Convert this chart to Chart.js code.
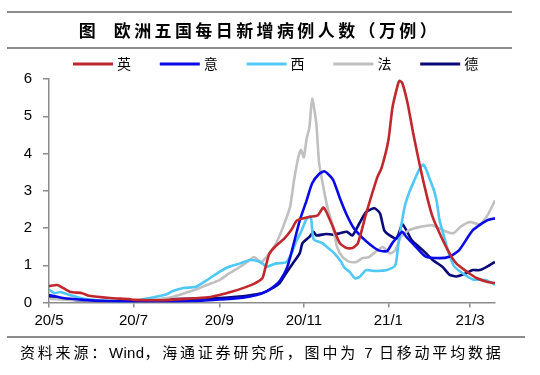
<!DOCTYPE html>
<html lang="zh">
  <head>
    <meta charset="utf-8" />
    <title>欧洲五国每日新增病例人数</title>
    <style>
      * {
        margin: 0;
        padding: 0;
      }
      body {
        background: #fff;
      }
      .wrap {
        position: relative;
        width: 540px;
        height: 375px;
        overflow: hidden;
      }
      .title {
        position: absolute;
        left: 7px;
        top: 11px;
        width: 505px;
        height: 34px;
        border-top: 2px solid #8c8c8c;
        border-bottom: 2px solid #8c8c8c;
        text-align: center;
        line-height: 34px;
        font-family: "Noto Sans CJK SC", sans-serif;
        font-weight: bold;
        font-size: 17px;
        letter-spacing: 3.4px;
        color: #000;
      }
      .source {
        position: absolute;
        left: 7px;
        top: 336px;
        width: 505px;
        border-top: 2px solid #8c8c8c;
        padding-left: 13px;
        padding-top: 3px;
        font-family: "Noto Sans CJK SC", sans-serif;
        font-size: 15px;
        letter-spacing: 2.8px;
        color: #000;
      }
      .source span {
        font-family: "Liberation Sans", Arial, sans-serif;
        letter-spacing: 0.3px;
      }
      canvas {
        position: absolute;
        left: 0;
        top: 0;
      }
    </style>
  </head>
  <body>
    <div class="wrap">
      <canvas id="myChart" width="540" height="375"></canvas>
      <div class="title">图&nbsp;&nbsp;欧洲五国每日新增病例人数（万例）</div>
      <div class="source">资料来源：<span>Wind</span>，海通证券研究所，图中为 <span>7</span> 日移动平均数据</div>
    </div>

    <script src="https://cdn.jsdelivr.net/npm/chart.js"></script>

    <script>
      // x values are days counted from 2020-05-01
      const tickDays = [0, 61, 123, 184, 245, 304];
      const tickLabels = ["20/5", "20/7", "20/9", "20/11", "21/1", "21/3"];
      const yTicks = [0, 1, 2, 3, 4, 5, 6];

      const seriesNames = ["英", "意", "西", "法", "德"];
      const seriesColors = ["#c0282d", "#0a0ae6", "#50c8f5", "#c0c0c0", "#0a0a78"];

      // 英
      const ukDays = [0, 6, 15, 24, 29, 44, 58, 61, 80, 100, 115, 123, 133, 141, 148, 154, 156, 159, 163, 170, 175, 179, 188, 194, 198, 200, 205, 210, 215, 219, 223, 229, 237, 240, 245, 248, 252, 253, 255, 259, 263, 268, 273, 277, 282, 288, 294, 302, 309, 316, 322];
      const ukVals = [0.44, 0.47, 0.29, 0.25, 0.18, 0.12, 0.09, 0.07, 0.06, 0.1, 0.14, 0.2, 0.3, 0.4, 0.5, 0.65, 0.9, 1.3, 1.49, 1.72, 1.95, 2.2, 2.3, 2.34, 2.55, 2.45, 2.03, 1.59, 1.46, 1.46, 1.59, 2.39, 3.36, 3.6, 4.35, 5.24, 5.87, 5.95, 5.9, 5.33, 4.53, 3.63, 2.83, 2.29, 1.86, 1.4, 1.05, 0.82, 0.65, 0.56, 0.52];

      // 意
      const itDays = [0, 10, 25, 40, 60, 90, 110, 123, 140, 150, 157, 163, 167, 172, 176, 181, 186, 190, 195, 199, 205, 210, 215, 220, 226, 232, 238, 244, 248, 255, 258, 265, 272, 282, 289, 296, 306, 316, 322];
      const itVals = [0.2, 0.12, 0.07, 0.04, 0.03, 0.03, 0.05, 0.08, 0.13, 0.2, 0.3, 0.45, 0.6, 0.95, 1.48, 2.2, 2.74, 3.2, 3.45, 3.52, 3.3, 2.8, 2.35, 2.0, 1.75, 1.55, 1.4, 1.38, 1.6, 1.9, 1.76, 1.49, 1.23, 1.19, 1.23, 1.4, 1.94, 2.2, 2.26];

      // 西
      const esDays = [0, 4, 8, 15, 25, 40, 61, 73, 85, 89, 97, 106, 114, 123, 130, 138, 145, 150, 154, 157, 164, 171, 175, 178, 182, 186, 189, 191, 197, 202, 206, 211, 213, 217, 221, 224, 229, 234, 239, 244, 250, 252, 254, 257, 260, 264, 267, 270, 272, 275, 278, 280, 282, 285, 288, 292, 296, 300, 306, 316, 322];
      const esVals = [0.35, 0.25, 0.28, 0.2, 0.1, 0.05, 0.04, 0.12, 0.22, 0.3, 0.39, 0.42, 0.6, 0.82, 0.96, 1.05, 1.14, 1.12, 1.05, 0.96, 1.05, 1.08, 1.3, 1.6, 1.9, 2.25, 2.3, 1.7, 1.6, 1.45, 1.32, 1.09, 0.95, 0.82, 0.65, 0.68, 0.87, 0.85, 0.85, 0.87, 1.0, 1.5, 2.0, 2.6, 2.95, 3.3, 3.55, 3.7, 3.6, 3.3, 3.0, 2.7, 2.2, 1.8, 1.4, 1.0, 0.85, 0.75, 0.62, 0.6, 0.47];

      // 法
      const frDays = [0, 15, 30, 50, 61, 75, 89, 102, 114, 123, 130, 138, 145, 148, 151, 154, 159, 164, 169, 174, 177, 180, 182, 184, 186, 188, 190, 193, 195, 199, 201, 205, 208, 212, 217, 222, 226, 231, 237, 241, 246, 250, 254, 260, 268, 277, 287, 292, 297, 304, 311, 316, 322];
      const frVals = [0.1, 0.07, 0.05, 0.04, 0.05, 0.08, 0.15, 0.3, 0.47, 0.6, 0.78, 0.96, 1.14, 1.22, 1.14, 1.1, 1.32, 1.59, 2.03, 2.56, 3.3, 3.9, 4.1, 3.9, 4.4, 4.7, 5.47, 4.8, 3.75, 2.92, 2.56, 2.03, 1.49, 1.22, 1.09, 1.09, 1.19, 1.22, 1.4, 1.49, 1.32, 1.4, 1.76, 1.94, 2.03, 2.07, 1.9, 1.86, 2.03, 2.16, 2.1, 2.3, 2.74];

      // 德
      const deDays = [0, 10, 20, 40, 61, 80, 100, 123, 135, 150, 157, 166, 171, 176, 181, 183, 188, 191, 193, 200, 205, 210, 215, 219, 224, 229, 235, 239, 242, 246, 251, 255, 258, 262, 270, 277, 284, 289, 294, 299, 306, 311, 318, 322];
      const deVals = [0.15, 0.1, 0.06, 0.04, 0.04, 0.08, 0.1, 0.12, 0.15, 0.22, 0.3, 0.5, 0.78, 1.05, 1.32, 1.59, 1.76, 1.9, 1.8, 1.84, 1.82, 1.86, 1.9, 1.8, 2.12, 2.43, 2.53, 2.39, 1.94, 1.8, 1.72, 2.1, 1.94, 1.67, 1.4, 1.14, 0.96, 0.75, 0.7, 0.75, 0.87, 0.87, 1.0, 1.09];

      const allDays = [ukDays, itDays, esDays, frDays, deDays];
      const allVals = [ukVals, itVals, esVals, frVals, deVals];

      function toPoints(days, vals) {
        return days.map((d, i) => ({ x: d, y: vals[i] }));
      }

      const datasets = seriesNames.map((name, i) => ({
        label: name,
        data: toPoints(allDays[i], allVals[i]),
        borderColor: seriesColors[i],
        backgroundColor: seriesColors[i],
        borderWidth: 2.6,
        pointRadius: 0,
        tension: 0.2,
        fill: false,
      }));

      // legend drawn as short lines + labels in one row above the plot
      const lineLegend = {
        id: "lineLegend",
        afterDraw(chart) {
          const { ctx } = chart;
          ctx.save();
          ctx.font = "14px 'Noto Sans CJK SC'";
          ctx.textBaseline = "middle";
          seriesNames.forEach((name, i) => {
            const x0 = 73 + i * 86.8;
            ctx.fillStyle = seriesColors[i];
            ctx.fillRect(x0, 62.5, 40, 3);
            ctx.fillStyle = "#000";
            ctx.fillText(name, x0 + 44, 64);
          });
          ctx.restore();
        },
      };

      const axisFont = { family: "'Liberation Sans', Arial, sans-serif", size: 15 };

      const config = {
        type: "line",
        data: { datasets },
        options: {
          responsive: false,
          animation: false,
          layout: { padding: { top: 79, right: 45, bottom: 42.5, left: 0 } },
          plugins: {
            legend: { display: false },
            tooltip: { enabled: false },
          },
          scales: {
            x: {
              type: "linear",
              min: 0,
              max: 322,
              afterBuildTicks(scale) {
                scale.ticks = tickDays.map((v) => ({ value: v }));
              },
              afterFit(scale) {
                scale.height = 30;
              },
              ticks: {
                autoSkip: false,
                maxRotation: 0,
                padding: 4,
                color: "#000",
                font: axisFont,
                callback: (v) => tickLabels[tickDays.indexOf(v)],
              },
              grid: { drawOnChartArea: false, tickLength: 5, color: "#8c8c8c", lineWidth: 1.5 },
              border: { color: "#8c8c8c", width: 1.5 },
            },
            y: {
              min: 0,
              max: 6,
              afterBuildTicks(scale) {
                scale.ticks = yTicks.map((v) => ({ value: v }));
              },
              afterFit(scale) {
                scale.width = 49;
              },
              ticks: {
                padding: 11,
                color: "#000",
                font: axisFont,
              },
              grid: { drawOnChartArea: false, tickLength: 6, color: "#8c8c8c", lineWidth: 1.5 },
              border: { color: "#8c8c8c", width: 1.5 },
            },
          },
        },
        plugins: [lineLegend],
      };

      const myChart = new Chart(document.getElementById("myChart"), config);
    </script>
  </body>
</html>
